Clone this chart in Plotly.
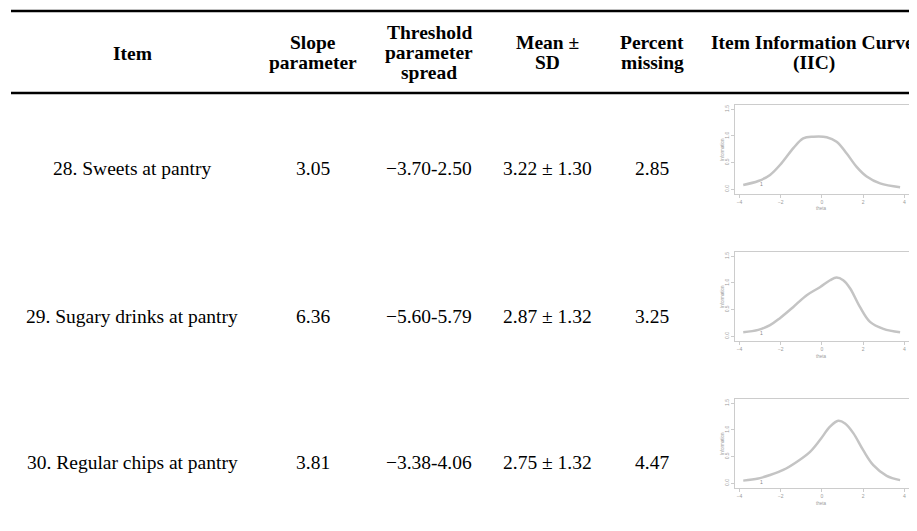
import plotly.graph_objects as go

# ---------------- data ----------------
header_item = ["Item"]
header_slope = ["Slope", "parameter"]
header_threshold = ["Threshold", "parameter", "spread"]
header_mean = ["Mean \u00b1", "SD"]
header_missing = ["Percent", "missing"]
header_iic = ["Item Information Curve", "(IIC)"]

items = ["28. Sweets at pantry", "29. Sugary drinks at pantry", "30. Regular chips at pantry"]
slopes = ["3.05", "6.36", "3.81"]
thresholds = ["\u22123.70-2.50", "\u22125.60-5.79", "\u22123.38-4.06"]
means = ["3.22 \u00b1 1.30", "2.87 \u00b1 1.32", "2.75 \u00b1 1.32"]
missing = ["2.85", "3.25", "4.47"]

theta_1 = [-3.82, -3.09, -2.52, -1.96, -1.39, -0.91, -0.42, 0.23, 0.71, 1.20, 1.68, 2.17, 2.82, 3.79]
info_1 = [0.08, 0.155, 0.27, 0.49, 0.77, 0.955, 0.985, 0.975, 0.89, 0.67, 0.42, 0.24, 0.11, 0.04]

theta_2 = [-3.82, -3.09, -2.52, -2.04, -1.39, -0.74, -0.10, 0.39, 0.71, 1.03, 1.36, 1.84, 2.33, 2.98, 3.79]
info_2 = [0.075, 0.12, 0.21, 0.34, 0.55, 0.77, 0.92, 1.05, 1.10, 1.05, 0.90, 0.55, 0.27, 0.14, 0.075]

theta_3 = [-3.82, -3.09, -2.52, -1.88, -1.23, -0.58, -0.10, 0.39, 0.79, 1.12, 1.52, 2.00, 2.49, 3.14, 3.79]
info_3 = [0.05, 0.09, 0.155, 0.25, 0.40, 0.59, 0.81, 1.06, 1.17, 1.12, 0.94, 0.62, 0.34, 0.14, 0.06]

curve_labels = ["1", "1", "1"]
x_ticks = [-4, -2, 0, 2, 4]
y_ticks = [0.0, 0.5, 1.0, 1.5]
y_tick_text = ["0.0", "0.5", "1.0", "1.5"]

# ---------------- layout helpers ----------------
# the page body has an 8px margin, so the figure is placed at (8, 8)
OFF = 8
W, H = 917 - OFF, 531 - OFF
def px(x):
    return (x - OFF) / W
def py(y):
    return 1 - (y - OFF) / H

SERIF = "Liberation Serif"
SANS = "Liberation Sans"
fs = 19.5

fig = go.Figure()
annotations = []
shapes = []

def txt(x, y, s, bold=False, size=fs, color="black", family=SERIF, angle=0, anchor="center"):
    annotations.append(dict(
        x=px(x), y=py(y), xref="paper", yref="paper",
        text=("<b>%s</b>" % s) if bold else s,
        showarrow=False, xanchor=anchor, yanchor="middle",
        font=dict(family=family, size=size, color=color), textangle=angle))

# header
col_x = [132, 313, 429, 547, 652, 814]
txt(col_x[0], 53, header_item[0], bold=True)
for i, s in enumerate(header_slope):
    txt(col_x[1], 43 + 20 * i, s, bold=True)
for i, s in enumerate(header_threshold):
    txt(col_x[2], 32 + 20 * i, s, bold=True)
for i, s in enumerate(header_mean):
    txt(col_x[3], 43 + 20 * i, s, bold=True)
for i, s in enumerate(header_missing):
    txt(col_x[4], 43 + 20 * i, s, bold=True)
txt(709, 43, header_iic[0], bold=True, anchor="left")
txt(col_x[5], 63, header_iic[1], bold=True)

# rules
for yy in (11, 93):
    shapes.append(dict(type="line", xref="paper", yref="paper",
                       x0=px(11), x1=1.0, y0=py(yy), y1=py(yy),
                       line=dict(color="black", width=2.5)))

# body rows
row_y = [169, 316, 462]
for r in range(3):
    txt(col_x[0], row_y[r], items[r])
    txt(col_x[1], row_y[r], slopes[r])
    txt(col_x[2], row_y[r], thresholds[r])
    txt(col_x[3], row_y[r], means[r])
    txt(col_x[4], row_y[r], missing[r])

# mini IIC plots
thetas = [theta_1, theta_2, theta_3]
infos = [info_1, info_2, info_3]
offsets = [0, 147, 294]
x_range = [-4.22, 4.61]
y_range = [-0.088, 1.579]
gray_line = "#c4c4c4"
gray_box = "#cccccc"
gray_txt = "#9a9a9a"

for r in range(3):
    o = offsets[r]
    n = "" if r == 0 else str(r + 1)
    fig.add_trace(go.Scatter(
        x=thetas[r], y=infos[r], mode="lines", line_shape="spline",
        line=dict(color=gray_line, width=2.5),
        xaxis="x" + n, yaxis="y" + n, showlegend=False, hoverinfo="skip"))
    xa = dict(domain=[px(735), 1.0], range=x_range, anchor="y" + n,
              showgrid=False, zeroline=False, showline=True, mirror=True,
              linecolor=gray_box, linewidth=1, ticks="outside", ticklen=3,
              tickcolor=gray_box, tickvals=x_ticks,
              tickfont=dict(family=SANS, size=5, color=gray_txt))
    ya = dict(domain=[py(194 + o), py(105 + o)], range=y_range, anchor="x" + n,
              showgrid=False, zeroline=False, showline=True,
              linecolor=gray_box, linewidth=1, ticks="outside", ticklen=3,
              tickcolor=gray_box, tickvals=y_ticks, ticktext=y_tick_text,
              tickangle=-90, tickfont=dict(family=SANS, size=5, color=gray_txt))
    fig.layout["xaxis" + n] = xa
    fig.layout["yaxis" + n] = ya
    txt(722, 150 + o, "Information", size=4.5, color=gray_txt, family=SANS, angle=-90)
    txt(821, 209 + o, "theta", size=4.5, color=gray_txt, family=SANS)
    annotations.append(dict(x=thetas[r][1] + 0.15, y=infos[r][1] - 0.06,
                            xref="x" + n, yref="y" + n, text=curve_labels[r],
                            showarrow=False, font=dict(family=SANS, size=5, color="#888888")))

fig.update_layout(
    width=W, height=H, margin=dict(l=0, r=0, t=0, b=0),
    paper_bgcolor="white", plot_bgcolor="white",
    annotations=annotations, shapes=shapes, showlegend=False)

fig.write_html("out.html")
